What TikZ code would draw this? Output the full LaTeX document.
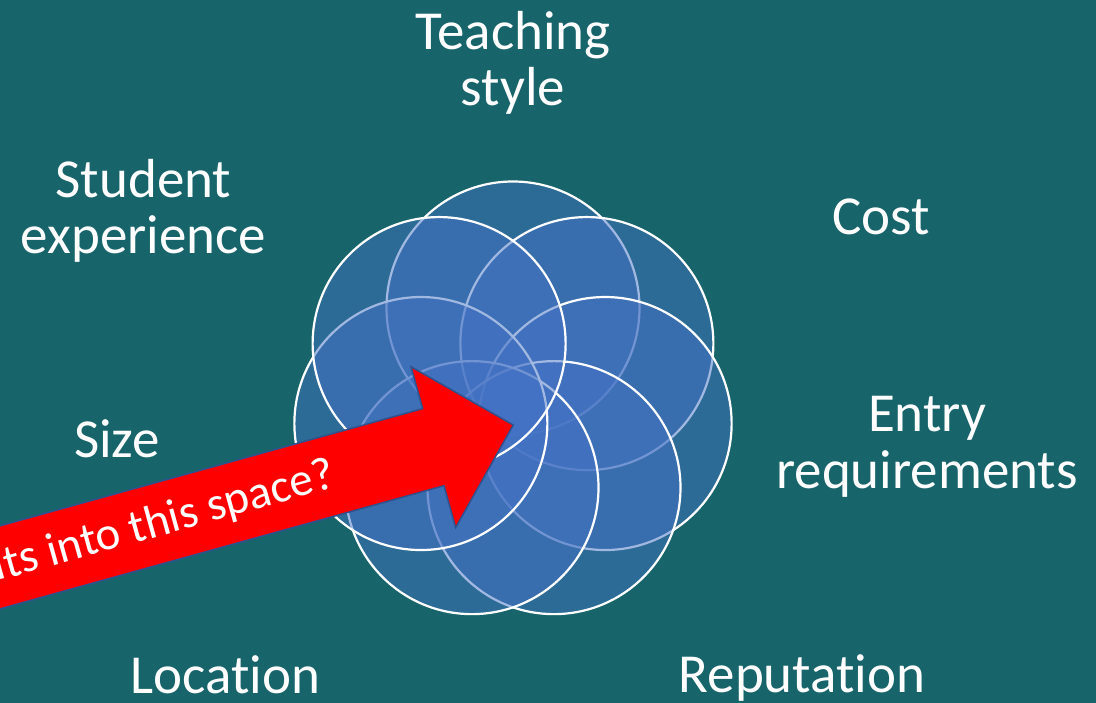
\documentclass[tikz,border=0pt]{standalone}
\usepackage{fontspec}
\setmainfont{Carlito}[Ligatures=NoCommon]
\definecolor{bgteal}{HTML}{17646A}
\definecolor{petal}{HTML}{4472C4}
\definecolor{arrowline}{HTML}{2F528F}
\tikzset{
  petalnode/.style={circle, minimum size=253pt, inner sep=0pt, draw=white, line width=2.2pt,
    fill=petal, fill opacity=0.5, draw opacity=1},
  label/.style={text=white, font=\fontsize{55}{56.5}\selectfont, align=center, inner sep=0pt, anchor=base},
  arrowtext/.style={text=white, font=\fontsize{47}{49}\selectfont, inner sep=0pt, anchor=east, rotate=15.5}
}
\begin{document}
\begin{tikzpicture}[x=1pt,y=-1pt]
\useasboundingbox (0,0) rectangle (1096,703);
\clip (0,0) rectangle (1096,703);
\fill[bgteal] (0,0) rectangle (1096,703);
% petals, drawn clockwise from the top
\foreach \k in {0,...,6}{
  \node[petalnode] (c\k) at ({513+94.5*sin(\k*360/7)},{402.5-94.5*cos(\k*360/7)}) {};
}
% labels (base anchor = baseline of the last line)
\node[label] (teach) at (513,106) {Teaching\\style};
\node[label] (student) at (143.5,253.7) {Student\\experience};
\node[label] (cost) at (881.5,234.5) {Cost};
\node[label] (entry) at (927,488) {Entry\\requirements};
\node[label] (size) at (117,457) {Size};
\node[label] (loc) at (225.5,693.5) {Location};
\node[label] (rep) at (802,692.5) {Reputation};
% red arrow
\begin{scope}[shift={(513.3,425)}, rotate=15.5]
  \coordinate (tip) at (0,0);
  \draw[fill=red, draw=arrowline, line width=1.5pt, line join=miter]
    (tip) -- (-83,83.5) -- (-83,40) -- (-800,40) -- (-800,-40) -- (-83,-40) -- (-83,-83.5) -- cycle;
  \node[arrowtext] (q) at (-186,0) {What fits into this space?};
\end{scope}
\end{tikzpicture}
\end{document}
